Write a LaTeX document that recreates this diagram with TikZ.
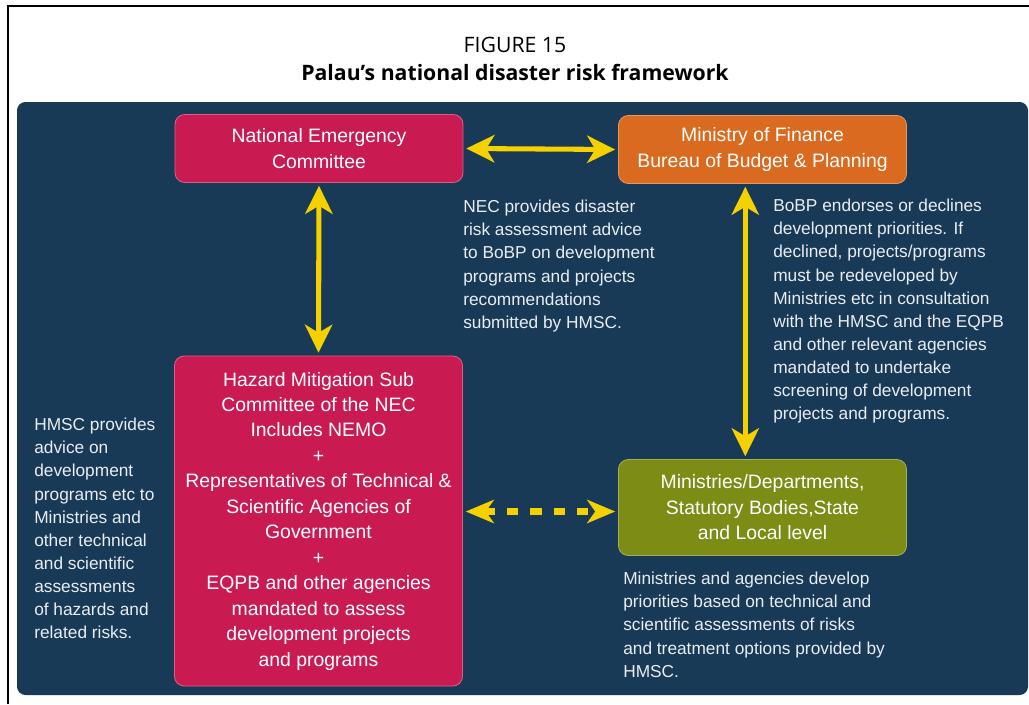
\documentclass[tikz,border=0pt]{standalone}
\usepackage{fontspec}
\setmainfont{Liberation Sans}
\newfontfamily\titlefont{Open Sans}
\usetikzlibrary{arrows.meta, positioning}
\definecolor{panelbg}{HTML}{183A57}
\definecolor{boxred}{HTML}{C91B52}
\definecolor{boxorange}{HTML}{D96A1F}
\definecolor{boxolive}{HTML}{7C8C14}
\definecolor{arrowyel}{HTML}{F6D100}
\definecolor{notecol}{HTML}{E9EDF1}
\newcommand{\boxfont}{\fontsize{13.8}{18.1}\selectfont}
\newcommand{\notefont}{\fontsize{12.3}{16.4}\selectfont}

\begin{document}
\begin{tikzpicture}[
        x=0.025cm, y=-0.025cm,
        box/.style={rectangle, rounded corners=7pt, draw=#1!70!white, line width=0.6pt, fill=#1, text=white, minimum width=7.2cm, align=center, inner sep=0pt, font=\boxfont},
        note/.style={anchor=north west, align=left, inner sep=0pt, text=notecol, font=\notefont},
        titletext/.style={inner sep=0pt, font=\titlefont\fontsize{15.1}{18}\selectfont},
        yarrow/.style={{Stealth[length=0.7cm, width=0.68cm, inset=0.2cm]}-{Stealth[length=0.7cm, width=0.68cm, inset=0.2cm]}, line width=3.6pt, draw=arrowyel, shorten <=2pt, shorten >=2pt},
        dasharrow/.style={{Stealth[length=0.7cm, width=0.58cm, inset=0.2cm]}-{Stealth[length=0.7cm, width=0.58cm, inset=0.2cm]}, line width=5pt, draw=arrowyel, dash pattern=on 0.28cm off 0.3cm, shorten <=2pt, shorten >=2pt}
    ]
    \useasboundingbox (0,0) rectangle (1029,704);

    %% --- Frame and title ---
    \draw[line width=1.1pt] (8,704) -- (8,6) -- (1029,6);
    \node[titletext] (figlabel) at (515,45) {FIGURE 15};
    \node[titletext, font=\titlefont\bfseries\fontsize{15.1}{18}\selectfont] (figtitle) at (515,72) {Palau’s national disaster risk framework};

    %% --- Dark panel ---
    \fill[panelbg, rounded corners=6pt] (17,102) rectangle (1028,695);

    %% --- Boxes ---
    \node[box=boxred, minimum height=1.7cm] (nec) at (319,148.5) {National Emergency\\Committee};
    \node[box=boxorange, minimum height=1.7cm] (mof) at (762.5,149.5) {Ministry of Finance\\Bureau of Budget \& Planning};
    \node[box=boxred, minimum height=8.25cm] (hmsc) at (318.5,521) {Hazard Mitigation Sub\\Committee of the NEC\\Includes NEMO\\+\\Representatives of Technical \&\\Scientific Agencies of\\Government\\+\\EQPB and other agencies\\mandated to assess\\development projects\\and programs};
    \node[box=boxolive, minimum height=2.4cm] (minis) at (762.5,507.5) {Ministries/Departments,\\Statutory Bodies,State\\and Local level};

    %% --- Notes ---
    \node[note] (necnote) at (463,200) {NEC provides disaster\\risk assessment advice\\to BoBP on development\\programs and projects\\recommendations\\submitted by HMSC.};
    \node[note] (bobpnote) at (773,199) {BoBP endorses or declines\\development priorities. If\\declined, projects/programs\\must be redeveloped by\\Ministries etc in consultation\\with the HMSC and the EQPB\\and other relevant agencies\\mandated to undertake\\screening of development\\projects and programs.};
    \node[note] (hmscnote) at (34,418) {HMSC provides\\advice on\\development\\programs etc to\\Ministries and\\other technical\\and scientific\\assessments\\of hazards and\\related risks.};
    \node[note] (minisnote) at (623,572) {Ministries and agencies develop\\priorities based on technical and\\scientific assessments of risks\\and treatment options provided by\\HMSC.};

    %% --- Arrows ---
    \draw[yarrow] (nec.east) -- (mof.west);
    \draw[yarrow] (nec.south) -- (hmsc.north);
    \draw[yarrow] ([xshift=-0.43cm]mof.south) -- ([xshift=-0.43cm]minis.north);
    \coordinate (dashend) at ([yshift=-0.1cm]minis.west);
    \draw[dasharrow] (hmsc.east |- dashend) -- (dashend);

\end{tikzpicture}
\end{document}
